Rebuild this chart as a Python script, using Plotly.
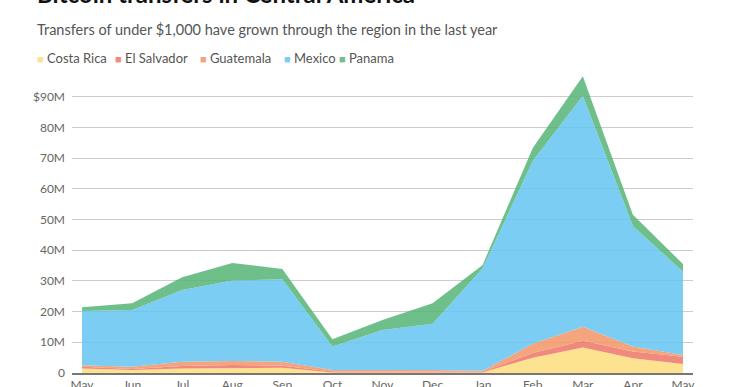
import plotly.graph_objects as go

months = ["May", "Jun", "Jul", "Aug", "Sep", "Oct", "Nov", "Dec", "Jan", "Feb", "Mar", "Apr", "May"]

# values in millions of US dollars
costa_rica = [1.5, 1.0, 1.5, 1.7, 1.7, 0.2, 0.2, 0.2, 0.2, 5.0, 8.3, 4.8, 2.9]
el_salvador = [0.5, 0.3, 0.8, 0.9, 0.7, 0.3, 0.3, 0.3, 0.2, 1.5, 2.2, 2.2, 2.4]
guatemala = [0.5, 0.7, 1.4, 1.3, 1.3, 0.5, 0.5, 0.5, 0.3, 3.0, 4.6, 1.6, 0.6]
mexico = [17.7, 18.5, 23.3, 26.2, 26.8, 7.6, 13.0, 15.0, 33.4, 59.5, 75.2, 39.3, 27.1]
panama = [1.2, 2.2, 4.2, 5.7, 3.4, 2.4, 3.3, 6.7, 1.1, 4.3, 6.3, 3.6, 2.5]

y_ticks = [0, 10, 20, 30, 40, 50, 60, 70, 80, 90]
y_tick_text = ["0", "10M", "20M", "30M", "40M", "50M", "60M", "70M", "80M", "$90M"]

series = [
    ("Costa Rica", costa_rica, "rgba(253,221,123,0.85)", "#fde28f"),
    ("El Salvador", el_salvador, "rgba(237,117,103,0.85)", "#f08a7e"),
    ("Guatemala", guatemala, "rgba(243,149,102,0.85)", "#f5a57d"),
    ("Mexico", mexico, "rgba(101,196,241,0.85)", "#7ccdf3"),
    ("Panama", panama, "rgba(86,180,119,0.85)", "#6fbf8b"),
]

x = list(range(len(months)))
FONT = "Lato, 'Open Sans', sans-serif"

fig = go.Figure()
for name, vals, fill, _ in series:
    fig.add_trace(go.Scatter(
        x=x, y=vals, name=name, mode="lines",
        stackgroup="one", fillcolor=fill,
        line=dict(width=0, color=fill),
        showlegend=False,
    ))

W, H = 733, 387
L, R, T, B = 72, 40, 69, 14
pw, ph = W - L - R, H - T - B


def px_x(p):
    return (p - L) / pw


def px_y(p):
    return (H - B - p) / ph


annotations = [
    dict(text="<b>Bitcoin transfers in Central America</b>", x=px_x(35), y=px_y(10),
         xref="paper", yref="paper", xanchor="left", yanchor="bottom", showarrow=False,
         font=dict(family=FONT, size=24, color="#111111")),
    dict(text="Transfers of under $1,000 have grown through the region in the last year",
         x=px_x(35), y=px_y(29), xref="paper", yref="paper", xanchor="left", yanchor="middle",
         showarrow=False, font=dict(family=FONT, size=14.5, color="#555555")),
]

legend_x = [35, 113, 198, 282, 337]
for (name, _, _, solid), lx in zip(series, legend_x):
    annotations.append(dict(
        text=f"<span style='color:{solid};font-size:11px'>■</span> {name}",
        x=px_x(lx), y=px_y(58), xref="paper", yref="paper", xanchor="left", yanchor="middle",
        showarrow=False, font=dict(family=FONT, size=13, color="#555555")))

fig.update_layout(
    width=W, height=H,
    margin=dict(l=L, r=R, t=T, b=B, autoexpand=False),
    plot_bgcolor="white", paper_bgcolor="white",
    showlegend=False,
    annotations=annotations,
    font=dict(family=FONT, color="#666666", size=12),
)
fig.update_xaxes(
    range=[-0.2, 12.2], tickvals=x, ticktext=months, showgrid=False, zeroline=False,
    showline=True, linecolor="#777777", linewidth=2, layer="above traces",
    ticks="", automargin=False, tickfont=dict(size=12, color="#666666"),
)
fig.update_yaxes(
    range=[0, 99], tickvals=y_ticks, ticktext=y_tick_text, showgrid=True,
    gridcolor="#cccccc", gridwidth=1, zeroline=False, showline=False, ticks="",
    ticklabelstandoff=6, automargin=False, tickfont=dict(size=12, color="#666666"),
)

fig.write_html("out.html", config={"displayModeBar": False},
               post_script="document.body.style.margin='0px';")
